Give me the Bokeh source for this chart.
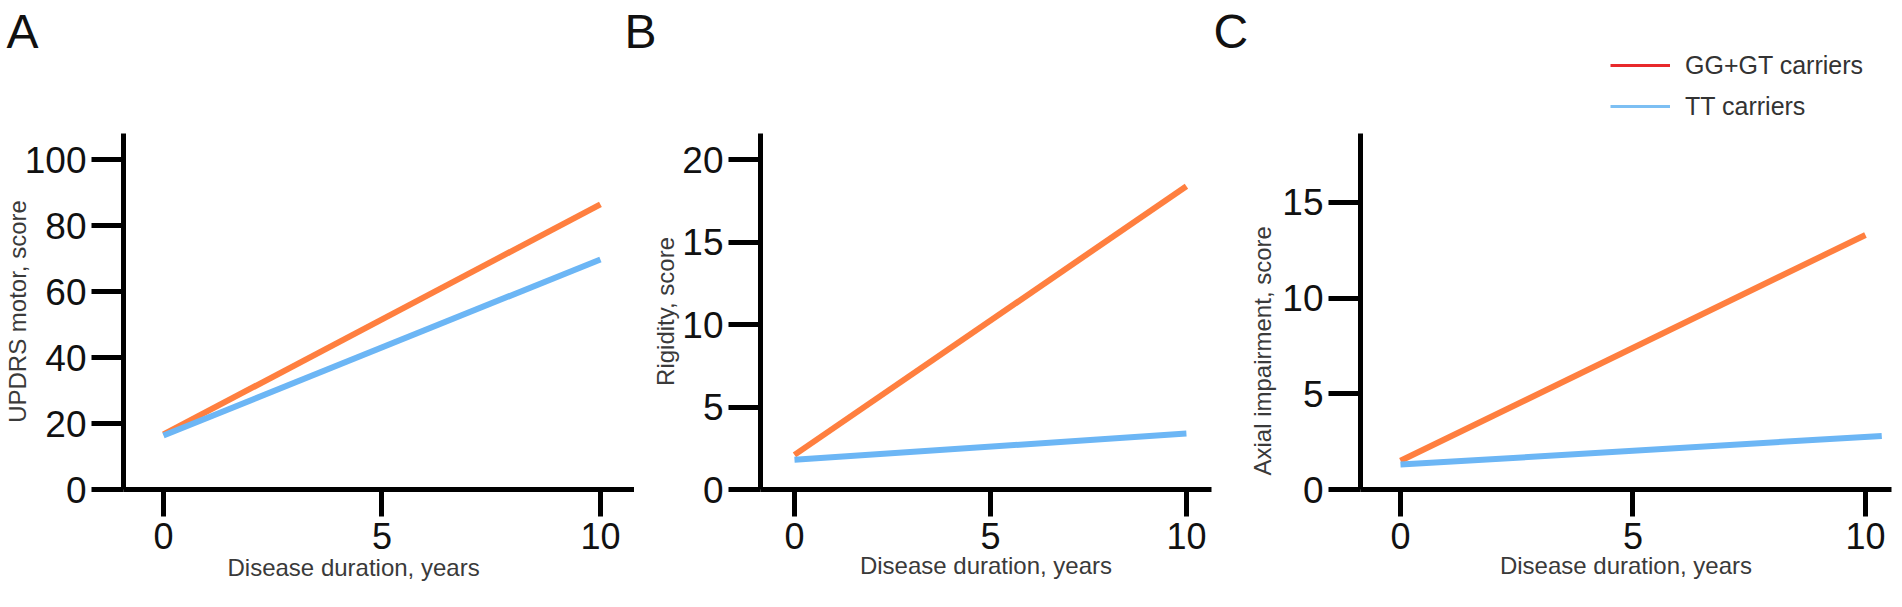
from bokeh.plotting import figure
from bokeh.models import Range1d, FixedTicker, Label, Legend, LegendItem, Title
from bokeh.layouts import row, column
from bokeh.embed import file_html
from bokeh.resources import INLINE

# ---------------- data ----------------
years = [0, 10]
years_c_tt = [0, 10.35]

updrs_gg = [16.7, 86.5]
updrs_tt = [16.4, 69.8]

rigidity_gg = [2.1, 18.4]
rigidity_tt = [1.8, 3.4]

axial_gg = [1.5, 13.3]
axial_tt = [1.3, 2.8]

x_ticks = [0, 5, 10]
updrs_ticks = [0, 20, 40, 60, 80, 100]
rigidity_ticks = [0, 5, 10, 15, 20]
axial_ticks = [0, 5, 10, 15]

panel_letters = ["A", "B", "C"]
y_titles = ["UPDRS motor, score", "Rigidity, score", "Axial impairment, score"]
x_title = "Disease duration, years"
legend_labels = ["GG+GT carriers", "TT carriers"]

# ---------------- style ----------------
FONT = "Liberation Sans"
ORANGE = "#ff7f3f"
BLUE = "#6cb6f5"
LEG_RED = "#e8292b"
LEG_BLUE = "#7cbff3"
LABEL_GREY = "#3a3a3a"
LINE_W = 6
TOTAL_W = 1886
HEADER_H = 133
NAN = float("nan")


def make_panel(ytitle, yticks, y_end, x_start, x_end, frame_w,
               left_border, right_border, ylab_standoff,
               ytitle_shift=None, xtitle_shift=None):
    p = figure(frame_width=frame_w, frame_height=356,
               min_border_left=left_border, min_border_right=right_border,
               min_border_top=0, min_border_bottom=102,
               x_range=Range1d(x_start, x_end), y_range=Range1d(0, y_end),
               output_backend="svg", toolbar_location=None,
               background_fill_color="white", border_fill_color="white")
    p.outline_line_color = None
    p.xgrid.visible = False
    p.ygrid.visible = False

    for ax, ticks in ((p.xaxis[0], x_ticks), (p.yaxis[0], yticks)):
        ax.ticker = FixedTicker(ticks=ticks)
        ax.minor_tick_line_color = None
        ax.axis_line_width = 5
        ax.axis_line_color = "black"
        ax.major_tick_line_width = 5
        ax.major_tick_line_color = "black"
        ax.major_tick_in = 0
        ax.major_label_text_font = FONT
        ax.major_label_text_color = "#111111"
        ax.axis_label_text_font = FONT
        ax.axis_label_text_font_style = "normal"
        ax.axis_label_text_color = LABEL_GREY
        ax.axis_label_text_font_size = "24px"

    p.yaxis.major_tick_out = 32
    p.yaxis.major_label_standoff = 5
    p.yaxis.major_label_text_font_size = "37px"
    if ytitle_shift is None:
        p.yaxis.axis_label = ytitle
        p.yaxis.axis_label_standoff = ylab_standoff
    else:
        p.add_layout(Title(text=ytitle, align="left", offset=ytitle_shift,
                           standoff=ylab_standoff, text_font=FONT,
                           text_font_size="24px", text_font_style="normal",
                           text_color=LABEL_GREY), "left")

    p.xaxis.major_tick_out = 27
    p.xaxis.major_label_standoff = 6
    p.xaxis.major_label_text_font_size = "36px"
    if xtitle_shift is None:
        p.xaxis.axis_label = x_title
        p.xaxis.axis_label_standoff = 0
    else:
        p.add_layout(Title(text=x_title, align="left", offset=xtitle_shift,
                           standoff=0, text_font=FONT,
                           text_font_size="24px", text_font_style="normal",
                           text_color=LABEL_GREY), "below")
    return p


pA = make_panel(y_titles[0], updrs_ticks, 108, -0.915, 10.78, 511, 117, 0, -9,
                xtitle_shift=104)
pA.line(years, updrs_gg, line_color=ORANGE, line_width=LINE_W)
pA.line(years, updrs_tt, line_color=BLUE, line_width=LINE_W)

pB = make_panel(y_titles[1], rigidity_ticks, 21.6, -0.867, 10.64, 451, 126, 2, 0)
pB.line(years, rigidity_gg, line_color=ORANGE, line_width=LINE_W)
pB.line(years, rigidity_tt, line_color=BLUE, line_width=LINE_W)

pC = make_panel(y_titles[2], axial_ticks, 18.6, -0.86, 10.56, 531, 147, 1, 8,
                ytitle_shift=14)
pC.line(years, axial_gg, line_color=ORANGE, line_width=LINE_W)
pC.line(years_c_tt, axial_tt, line_color=BLUE, line_width=LINE_W)

# ---------------- header strip: panel letters and legend ----------------
header = figure(width=TOTAL_W, height=HEADER_H, min_border=0,
                x_range=Range1d(0, TOTAL_W), y_range=Range1d(0, HEADER_H),
                x_axis_type=None, y_axis_type=None,
                output_backend="svg", toolbar_location=None,
                background_fill_color="white", border_fill_color="white")
header.outline_line_color = None
header.xgrid.visible = False
header.ygrid.visible = False

letter_x = [6, 624, 1213]
for letter, lx in zip(panel_letters, letter_x):
    header.add_layout(Label(x=lx, y=102, x_units="screen", y_units="screen",
                            text=letter, text_font=FONT, text_font_size="48px",
                            text_color="#111111", text_baseline="alphabetic",
                            text_align="left"))

# legend swatches: renderers holding no visible point (NaN), styled as in the key
r_gg = header.line([NAN], [NAN], line_color=LEG_RED, line_width=3)
r_tt = header.line([NAN], [NAN], line_color=LEG_BLUE, line_width=3)
legend = Legend(items=[LegendItem(label=legend_labels[0], renderers=[r_gg]),
                       LegendItem(label=legend_labels[1], renderers=[r_tt])],
                location=(1610, 12), orientation="vertical",
                glyph_width=60, glyph_height=30, label_height=30,
                label_standoff=15, spacing=11, padding=10, margin=0,
                label_text_font=FONT, label_text_font_size="25px",
                label_text_color="#333333",
                border_line_color=None, background_fill_alpha=0)
header.add_layout(legend, "center")

layout = column(header, row(pA, pB, pC))
open("out.html", "w").write(file_html(layout, INLINE))
